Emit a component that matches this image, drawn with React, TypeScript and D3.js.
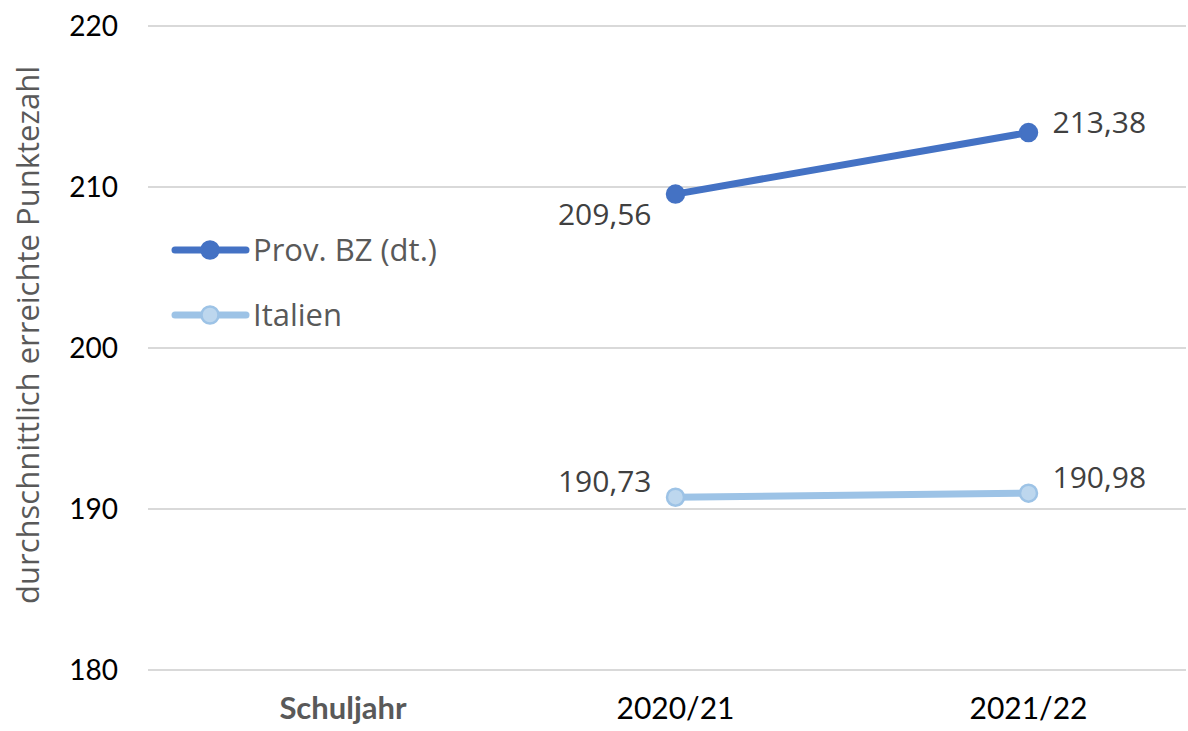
import React from 'react';
import * as d3 from 'd3';

// Durchschnittlich erreichte Punktezahl, Schuljahr 2020/21 - 2021/22

const categories = ['', '2020/21', '2021/22'];
const yTicks = [180, 190, 200, 210, 220];

const seriesNames = ['Prov. BZ (dt.)', 'Italien'];
const bzValues = [null, 209.56, 213.38];
const itValues = [null, 190.73, 190.98];

const W = 1188;
const H = 731;
const FONT = 'Lato, "Open Sans", sans-serif';
const FONT2 = '"Open Sans", Lato, sans-serif';

const App = () => {
  const x = d3.scaleBand<string>().domain(categories).range([146, 1205]);
  const cx = (c: string) => (x(c) as number) + x.bandwidth() / 2;
  const y = d3.scaleLinear().domain([180, 220]).range([670, 26]);

  const series = [
    { name: seriesNames[0], values: bzValues, stroke: '#4472C4', fill: '#4472C4', labelPos: ['', 'bl', 'r'] },
    { name: seriesNames[1], values: itValues, stroke: '#9DC3E6', fill: '#BDD7EE', labelPos: ['', 'tl', 'tr'] },
  ];

  const line = d3
    .line<number | null>()
    .defined(d => d != null)
    .x((_, i) => cx(categories[i]))
    .y(d => y(d as number));

  const fmt = (v: number) => v.toFixed(2).replace('.', ',');

  return (
    <svg width={W} height={H} style={{ position: 'absolute', left: 0, top: 0, background: '#fff' }} fontFamily={FONT}>
      {/* gridlines + y tick labels */}
      {yTicks.map(t => (
        <g key={t}>
          <line x1={148} x2={1186} y1={y(t)} y2={y(t)} stroke="#D9D9D9" strokeWidth={2} />
          <text x={118} y={y(t)} dy="0.36em" textAnchor="end" fontSize={28} fill="#000">
            {t}
          </text>
        </g>
      ))}

      {/* y axis title */}
      <text
        transform={`translate(39, ${y(200) - 13}) rotate(-90)`}
        textAnchor="middle"
        fontSize={31}
        fontFamily={FONT2}
        fill="#595959"
      >
        durchschnittlich erreichte Punktezahl
      </text>

      {/* x labels */}
      {categories.map(c =>
        c ? (
          <text key={c} x={cx(c)} y={719} textAnchor="middle" fontSize={30} fill="#000">
            {c}
          </text>
        ) : null
      )}
      <text x={343} y={719} textAnchor="middle" fontSize={31} fontWeight="bold" fill="#595959">
        Schuljahr
      </text>

      {/* series */}
      {series.map(s => (
        <g key={s.name}>
          <path d={line(s.values) || ''} fill="none" stroke={s.stroke} strokeWidth={7} strokeLinecap="round" />
          {s.values.map((v, i) =>
            v == null ? null : (
              <g key={i}>
                <circle cx={cx(categories[i])} cy={y(v)} r={8.5} fill={s.fill} stroke={s.stroke} strokeWidth={2.5} />
                <text
                  x={cx(categories[i]) + (s.labelPos[i].includes('l') ? -24 : 24)}
                  y={y(v) + (s.labelPos[i].startsWith('b') ? 20 : s.labelPos[i].startsWith('t') ? -16 : -10)}
                  dy="0.36em"
                  textAnchor={s.labelPos[i].includes('l') ? 'end' : 'start'}
                  fontSize={30}
                  fontFamily={FONT2}
                  fill="#404040"
                >
                  {fmt(v)}
                </text>
              </g>
            )
          )}
        </g>
      ))}

      {/* legend */}
      {series.map((s, i) => (
        <g key={s.name} transform={`translate(0, ${250 + i * 65})`}>
          <line x1={175} x2={246} y1={0} y2={0} stroke={s.stroke} strokeWidth={7} strokeLinecap="round" />
          <circle cx={210} cy={0} r={8.5} fill={s.fill} stroke={s.stroke} strokeWidth={2.5} />
          <text x={253} y={0} dy="0.36em" fontSize={31} fontFamily={FONT2} fill="#595959">
            {s.name}
          </text>
        </g>
      ))}
    </svg>
  );
};

export default App;
